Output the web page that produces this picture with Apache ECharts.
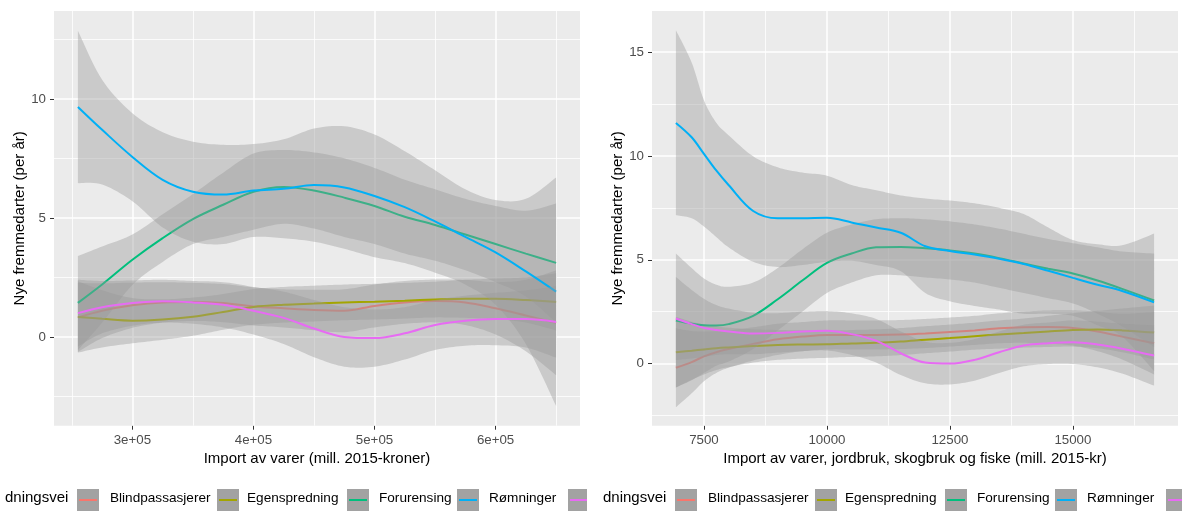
<!DOCTYPE html>
<html><head><meta charset="utf-8">
<script src="https://cdn.jsdelivr.net/npm/echarts@6/dist/echarts.min.js"></script>
<style>html,body{margin:0;padding:0;background:#fff}#c{width:1182px;height:511px}</style>
</head><body><div id="c"></div>
<script>
// ---------- data ----------
const seriesNames = ['Blindpassasjerer', 'Egenspredning', 'Forurensing', 'Rømninger', ''];
const seriesColors = ['#F8766D', '#A3A500', '#00BF7D', '#00B0F6', '#E76BF3'];
const legendTitle = 'dningsvei';

const leftXTitle = 'Import av varer (mill. 2015-kroner)';
const rightXTitle = 'Import av varer, jordbruk, skogbruk og fiske (mill. 2015-kr)';
const yTitle = 'Nye fremmedarter (per år)';

const leftXTicks = [300000, 400000, 500000, 600000];
const leftXTickLabels = ['3e+05', '4e+05', '5e+05', '6e+05'];
const leftXMinor = [250000, 350000, 450000, 550000, 650000];
const leftYTicks = [0, 5, 10];
const leftYTickLabels = ['0', '5', '10'];
const leftYMinor = [-2.5, 2.5, 7.5, 12.5];

const rightXTicks = [7500, 10000, 12500, 15000];
const rightXTickLabels = ['7500', '10000', '12500', '15000'];
const rightXMinor = [8750, 11250, 13750, 16250];
const rightYTicks = [0, 5, 10, 15];
const rightYTickLabels = ['0', '5', '10', '15'];
const rightYMinor = [-2.5, 2.5, 7.5, 12.5];

// left panel
const xsL = [255000, 275000, 300000, 325000, 350000, 375000, 400000, 425000, 450000, 475000, 500000, 525000, 550000, 575000, 600000, 625000, 650000];
const redL     = [0.82, 1.1, 1.33, 1.45, 1.47, 1.42, 1.28, 1.2, 1.13, 1.1, 1.3, 1.45, 1.51, 1.45, 1.2, 0.9, 0.59];
const redLHi   = [2.27, 2.25, 2.28, 2.3, 2.27, 2.22, 2.08, 2.0, 1.98, 2.0, 2.2, 2.35, 2.41, 2.4, 2.3, 2.4, 2.79];
const redLLo   = [-0.63, -0.05, 0.38, 0.6, 0.67, 0.62, 0.48, 0.4, 0.28, 0.2, 0.4, 0.55, 0.61, 0.5, 0.1, -0.6, -1.61];
const oliveL   = [0.84, 0.76, 0.68, 0.73, 0.85, 1.05, 1.26, 1.35, 1.4, 1.45, 1.48, 1.52, 1.57, 1.6, 1.6, 1.55, 1.47];
const oliveLHi = [2.34, 1.96, 1.63, 1.58, 1.65, 1.8, 2.01, 2.1, 2.15, 2.2, 2.23, 2.27, 2.32, 2.4, 2.45, 2.5, 2.67];
const oliveLLo = [-0.66, -0.44, -0.27, -0.12, 0.05, 0.3, 0.51, 0.6, 0.65, 0.7, 0.73, 0.77, 0.82, 0.8, 0.75, 0.6, 0.27];
const greenL   = [1.43, 2.2, 3.24, 4.15, 4.95, 5.55, 6.1, 6.3, 6.15, 5.85, 5.5, 5.05, 4.7, 4.3, 3.9, 3.5, 3.11];
const greenLHi = [3.4, 3.8, 4.3, 5.15, 6.0, 6.9, 7.7, 7.85, 7.75, 7.5, 7.1, 6.6, 6.2, 5.8, 5.5, 5.3, 5.6];
const greenLLo = [-0.55, 0.6, 2.18, 3.15, 3.9, 4.2, 4.5, 4.75, 4.55, 4.2, 3.9, 3.5, 3.2, 2.8, 2.3, 1.7, 0.6];
const blueL    = [9.66, 8.7, 7.56, 6.6, 6.1, 5.98, 6.15, 6.22, 6.38, 6.28, 5.92, 5.45, 4.85, 4.2, 3.55, 2.75, 1.9];
const blueLHi  = [12.86, 10.8, 9.4, 8.6, 8.2, 8.07, 8.1, 8.3, 8.75, 8.85, 8.5, 7.8, 7.0, 6.2, 5.75, 5.8, 6.7];
const blueLLo  = [6.46, 6.4, 5.7, 4.6, 4.0, 3.9, 4.2, 4.14, 4.0, 3.7, 3.35, 3.1, 2.7, 2.2, 1.35, -0.3, -2.9];
const pinkL    = [1.0, 1.25, 1.42, 1.5, 1.45, 1.35, 1.1, 0.8, 0.35, 0.0, -0.05, 0.15, 0.5, 0.68, 0.75, 0.75, 0.63];
const pinkLHi  = [2.4, 2.35, 2.37, 2.4, 2.35, 2.3, 2.1, 1.9, 1.55, 1.25, 1.15, 1.25, 1.55, 1.73, 1.85, 1.95, 2.13];
const pinkLLo  = [-0.4, 0.15, 0.47, 0.6, 0.55, 0.4, 0.1, -0.3, -0.85, -1.25, -1.25, -0.95, -0.55, -0.37, -0.35, -0.45, -0.87];

// right panel
const xsR = [6930, 7250, 7500, 7750, 8000, 8500, 9000, 9500, 10000, 10500, 11000, 11500, 12000, 12500, 13000, 13500, 14000, 14500, 15000, 15500, 16000, 16650];
const redR     = [-0.2, 0.07, 0.35, 0.55, 0.7, 0.95, 1.17, 1.3, 1.38, 1.38, 1.38, 1.4, 1.45, 1.52, 1.6, 1.7, 1.75, 1.76, 1.72, 1.55, 1.3, 0.98];
const redRHi   = [1.7, 1.57, 1.55, 1.55, 1.6, 1.75, 1.92, 2.0, 2.08, 2.08, 2.08, 2.1, 2.15, 2.22, 2.3, 2.42, 2.5, 2.56, 2.57, 2.5, 2.4, 2.48];
const redRLo   = [-2.1, -1.43, -0.85, -0.45, -0.2, 0.15, 0.42, 0.6, 0.68, 0.68, 0.68, 0.7, 0.75, 0.82, 0.9, 0.98, 1.0, 0.96, 0.87, 0.6, 0.2, -0.52];
const oliveR   = [0.55, 0.62, 0.68, 0.74, 0.78, 0.85, 0.9, 0.92, 0.93, 0.97, 1.0, 1.06, 1.15, 1.23, 1.32, 1.4, 1.47, 1.55, 1.62, 1.64, 1.6, 1.5];
const oliveRHi = [2.25, 2.02, 1.88, 1.79, 1.73, 1.65, 1.62, 1.6, 1.58, 1.62, 1.65, 1.71, 1.8, 1.88, 1.97, 2.08, 2.17, 2.3, 2.42, 2.54, 2.65, 2.8];
const oliveRLo = [-1.15, -0.78, -0.52, -0.31, -0.17, 0.05, 0.18, 0.24, 0.28, 0.32, 0.35, 0.41, 0.5, 0.58, 0.67, 0.72, 0.77, 0.8, 0.82, 0.74, 0.55, 0.2];
const greenR   = [2.07, 1.92, 1.85, 1.84, 1.9, 2.3, 3.1, 4.0, 4.85, 5.3, 5.6, 5.62, 5.55, 5.45, 5.3, 5.08, 4.82, 4.57, 4.34, 4.0, 3.6, 3.04];
const greenRHi = [5.3, 4.6, 4.1, 3.8, 3.7, 3.9, 4.6, 5.5, 6.3, 6.7, 6.95, 7.0, 6.95, 6.85, 6.7, 6.5, 6.25, 6.0, 5.8, 5.6, 5.4, 5.3];
const greenRLo = [-1.15, -0.8, -0.45, -0.1, 0.1, 0.7, 1.6, 2.5, 3.4, 3.9, 4.25, 4.25, 4.15, 4.05, 3.9, 3.65, 3.4, 3.15, 2.9, 2.4, 1.8, 0.8];
const blueR    = [11.59, 10.9, 10.1, 9.3, 8.6, 7.35, 7.0, 7.0, 7.02, 6.8, 6.55, 6.3, 5.65, 5.42, 5.25, 5.05, 4.8, 4.47, 4.13, 3.8, 3.5, 2.95];
const blueRHi  = [16.05, 14.5, 12.68, 11.6, 11.0, 9.98, 9.45, 9.2, 9.05, 8.6, 8.35, 8.1, 7.95, 7.85, 7.72, 7.5, 7.2, 6.55, 5.95, 5.75, 5.7, 6.26];
const blueRLo  = [7.15, 7.0, 6.6, 6.1, 5.6, 4.9, 4.65, 4.75, 4.9, 4.95, 4.75, 4.45, 3.4, 3.0, 2.78, 2.6, 2.4, 2.4, 2.3, 1.85, 1.3, -0.36];
const pinkR    = [2.17, 1.9, 1.72, 1.62, 1.55, 1.45, 1.48, 1.55, 1.58, 1.42, 1.1, 0.5, 0.05, 0.0, 0.18, 0.55, 0.87, 0.98, 1.03, 0.92, 0.72, 0.39];
const pinkRHi  = [4.17, 3.55, 3.12, 2.82, 2.65, 2.45, 2.43, 2.5, 2.53, 2.42, 2.15, 1.55, 1.05, 1.0, 1.18, 1.55, 1.87, 1.98, 2.08, 2.02, 1.92, 1.84];
const pinkRLo  = [0.17, 0.25, 0.32, 0.42, 0.45, 0.45, 0.53, 0.6, 0.63, 0.42, 0.05, -0.55, -0.95, -1.0, -0.82, -0.45, -0.13, -0.02, -0.02, -0.18, -0.48, -1.06];

// ---------- build ----------
const FONT = '"Liberation Sans", Arial, Helvetica, sans-serif';
const BAND = 'rgba(153,153,153,0.4)';

const panels = [
  { xs: xsL, groups: [[redL, redLLo, redLHi], [oliveL, oliveLLo, oliveLHi], [greenL, greenLLo, greenLHi], [blueL, blueLLo, blueLHi], [pinkL, pinkLLo, pinkLHi]],
    xMajor: leftXTicks, xMinor: leftXMinor, yMajor: leftYTicks, yMinor: leftYMinor },
  { xs: xsR, groups: [[redR, redRLo, redRHi], [oliveR, oliveRLo, oliveRHi], [greenR, greenRLo, greenRHi], [blueR, blueRLo, blueRHi], [pinkR, pinkRLo, pinkRHi]],
    xMajor: rightXTicks, xMinor: rightXMinor, yMajor: rightYTicks, yMinor: rightYMinor }
];

// Catmull-Rom smoothing of pixel points (points come from api.coord)
function spline(pts) {
  const out = [];
  const n = pts.length;
  for (let i = 0; i < n - 1; i++) {
    const p0 = pts[Math.max(i - 1, 0)], p1 = pts[i], p2 = pts[i + 1], p3 = pts[Math.min(i + 2, n - 1)];
    const steps = 10;
    for (let s = 0; s < steps; s++) {
      const t = s / steps, t2 = t * t, t3 = t2 * t;
      const f = (a, b, c, d) => 0.5 * ((2 * b) + (-a + c) * t + (2 * a - 5 * b + 4 * c - d) * t2 + (-a + 3 * b - 3 * c + d) * t3);
      out.push([f(p0[0], p1[0], p2[0], p3[0]), f(p0[1], p1[1], p2[1], p3[1])]);
    }
  }
  out.push(pts[n - 1]);
  return out;
}

const series = [];
panels.forEach(function (p, pi) {
  const ml = [];
  p.xMinor.forEach(v => ml.push({ xAxis: v, lineStyle: { width: 0.8 } }));
  p.yMinor.forEach(v => ml.push({ yAxis: v, lineStyle: { width: 0.8 } }));
  p.xMajor.forEach(v => ml.push({ xAxis: v, lineStyle: { width: 1.5 } }));
  p.yMajor.forEach(v => ml.push({ yAxis: v, lineStyle: { width: 1.5 } }));
  series.push({
    type: 'line', xAxisIndex: pi, yAxisIndex: pi, data: [], silent: true, z: 1,
    markLine: { silent: true, symbol: ['none', 'none'], label: { show: false }, animation: false, z: 1,
      lineStyle: { color: '#FFFFFF', type: 'solid', opacity: 1 }, emphasis: { disabled: true }, data: ml }
  });
  p.groups.forEach(function (g, gi) {
    const mid = g[0], lo = g[1], hi = g[2];
    const xs = p.xs;
    const zBase = 2 + gi * 2;
    series.push({
      type: 'custom', xAxisIndex: pi, yAxisIndex: pi, silent: true, z: zBase, clip: true,
      data: xs.map((x, i) => [x, lo[i], hi[i]]),
      encode: { x: 0, y: [1, 2] },
      renderItem: function (params, api) {
        if (params.dataIndex !== 0) return null;
        const up = xs.map((x, i) => api.coord([x, hi[i]]));
        const dn = xs.map((x, i) => api.coord([x, lo[i]]));
        const pts = spline(up).concat(spline(dn).reverse());
        return { type: 'polygon', shape: { points: pts }, style: { fill: BAND } };
      }
    });
    series.push({
      type: 'line', name: seriesNames[gi], xAxisIndex: pi, yAxisIndex: pi,
      data: xs.map((x, i) => [x, mid[i]]), showSymbol: false, symbol: 'none', smooth: 0.35,
      lineStyle: { color: seriesColors[gi], width: 2 }, itemStyle: { color: seriesColors[gi] }, silent: true, z: zBase + 1
    });
  });
});

function axisCommon(ticks, labels) {
  return {
    axisLine: { show: false, onZero: false },
    axisTick: { show: true, length: 4, lineStyle: { color: '#333333', width: 1 }, customValues: ticks },
    axisLabel: { customValues: ticks, formatter: v => labels[ticks.indexOf(v)], color: '#4D4D4D', fontSize: 13.3, fontFamily: FONT, margin: 8 },
    splitLine: { show: false }, minorSplitLine: { show: false }
  };
}
function xAxisDef(gi, min, max, ticks, labels, title) {
  return Object.assign({
    type: 'value', gridIndex: gi, min: min, max: max,
    name: title, nameLocation: 'middle', nameGap: 26,
    nameTextStyle: { color: '#000000', fontSize: 15, fontFamily: FONT }
  }, axisCommon(ticks, labels));
}
function yAxisDef(gi, min, max, ticks, labels, title) {
  return Object.assign({
    type: 'value', gridIndex: gi, min: min, max: max,
    name: title, nameLocation: 'middle', nameRotate: 90, nameGap: 20,
    nameTextStyle: { color: '#000000', fontSize: 15, fontFamily: FONT }
  }, axisCommon(ticks, labels));
}

// legend drawn with graphic elements
const boxX = [77, 217, 347, 457, 568];
const textX = [110, 247, 379, 489];
const graphics = [];
[0, 598].forEach(function (dx, pi) {
  graphics.push({ type: 'text', left: 5 + dx, top: 490, silent: true,
    style: { text: legendTitle, fill: '#000', font: '15px ' + FONT } });
  boxX.forEach(function (bx, i) {
    const w = (pi === 0 && i === 4) ? 19 : 22;
    graphics.push({ type: 'rect', shape: { x: bx + dx, y: 489, width: w, height: 22 }, style: { fill: '#A2A2A2' }, silent: true });
    graphics.push({ type: 'line', shape: { x1: bx + dx + 2, y1: 500, x2: bx + dx + w - (w === 22 ? 2 : 0), y2: 500 },
      style: { stroke: seriesColors[i], lineWidth: 2 }, silent: true });
    if (i < 4) {
      graphics.push({ type: 'text', left: textX[i] + dx, top: 491, silent: true,
        style: { text: seriesNames[i], fill: '#000', font: '13.6px ' + FONT } });
    }
  });
});

const option = {
  animation: false,
  backgroundColor: '#FFFFFF',
  grid: [
    { left: 54, top: 11, width: 526, height: 414.7, show: true, backgroundColor: '#EBEBEB', borderWidth: 0, containLabel: false, outerBoundsMode: 'none' },
    { left: 652, top: 11, width: 526, height: 414.7, show: true, backgroundColor: '#EBEBEB', borderWidth: 0, containLabel: false, outerBoundsMode: 'none' }
  ],
  xAxis: [
    xAxisDef(0, 235250, 669750, leftXTicks, leftXTickLabels, leftXTitle),
    xAxisDef(1, 6444, 17136, rightXTicks, rightXTickLabels, rightXTitle)
  ],
  yAxis: [
    yAxisDef(0, -3.73, 13.69, leftYTicks, leftYTickLabels, yTitle),
    yAxisDef(1, -2.99, 16.98, rightYTicks, rightYTickLabels, yTitle)
  ],
  series: series,
  graphic: graphics
};

const chart = echarts.init(document.getElementById('c'), null, { renderer: 'canvas' });
chart.setOption(option);
</script>
</body></html>
